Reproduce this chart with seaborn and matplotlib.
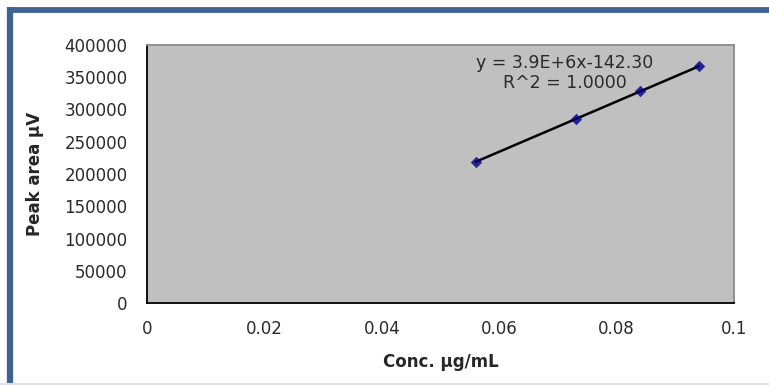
import matplotlib
matplotlib.use("Agg")
import matplotlib.pyplot as plt
import seaborn as sns
import pandas as pd
from matplotlib.lines import Line2D

conc = [0.056, 0.073, 0.084, 0.094]
peak_area = [219000, 285000, 328000, 367000]
x_ticks = [0, 0.02, 0.04, 0.06, 0.08, 0.1]
x_tick_labels = ["0", "0.02", "0.04", "0.06", "0.08", "0.1"]
y_ticks = [0, 50000, 100000, 150000, 200000, 250000, 300000, 350000, 400000]
eq_text = "y = 3.9E+6x-142.30\nR^2 = 1.0000"

df = pd.DataFrame({"conc": conc, "area": peak_area})

sns.set_style("white")
plt.rcParams["font.family"] = ["DejaVu Sans"]

fig = plt.figure(figsize=(7.69, 3.85), dpi=100)
ax = fig.add_axes([147 / 769, 82 / 385, 587 / 769, 258 / 385])
ax.set_facecolor("#c0c0c0")

sns.regplot(data=df, x="conc", y="area", ax=ax, ci=None, truncate=True,
            marker="D",
            scatter_kws={"color": "#000080", "s": 34, "zorder": 3, "linewidths": 0},
            line_kws={"color": "black", "lw": 1.8, "zorder": 2})

ax.set_xlim(0, 0.1)
ax.set_ylim(0, 400000)
ax.set_xticks(x_ticks)
ax.set_xticklabels(x_tick_labels)
ax.set_yticks(y_ticks)
ax.set_yticklabels([str(v) for v in y_ticks])
ax.tick_params(axis="both", direction="in", length=5, width=1.2, color="black",
               labelsize=12, labelcolor="#2a2a2a")
ax.tick_params(axis="x", pad=12)
ax.tick_params(axis="y", pad=14)

for s in ["left", "bottom"]:
    ax.spines[s].set_color("black")
    ax.spines[s].set_linewidth(1.3)
for s in ["top", "right"]:
    ax.spines[s].set_color("#8a8a8a")
    ax.spines[s].set_linewidth(1.3)

ax.set_xlabel("Conc. µg/mL", fontsize=12, fontweight="bold", labelpad=11)
ax.set_ylabel("Peak area µV", fontsize=12, fontweight="bold", labelpad=15)

ax.text(0.0712, 357000, eq_text, ha="center", va="center", fontsize=12.5,
        color="#2a2a2a", linespacing=1.15)

# figure frame
fig.add_artist(Line2D([7 / 769, 1], [1 - 9.8 / 385, 1 - 9.8 / 385],
                      transform=fig.transFigure, color="#3d6396", lw=4.2,
                      solid_capstyle="butt"))
fig.add_artist(Line2D([10 / 769, 10 / 769], [0, 1 - 7 / 385],
                      transform=fig.transFigure, color="#3d6396", lw=4.5,
                      solid_capstyle="butt"))
fig.add_artist(Line2D([0, 1], [1.5 / 385, 1.5 / 385],
                      transform=fig.transFigure, color="#dde0ea", lw=1.5))

fig.savefig("out.png", dpi=100)
